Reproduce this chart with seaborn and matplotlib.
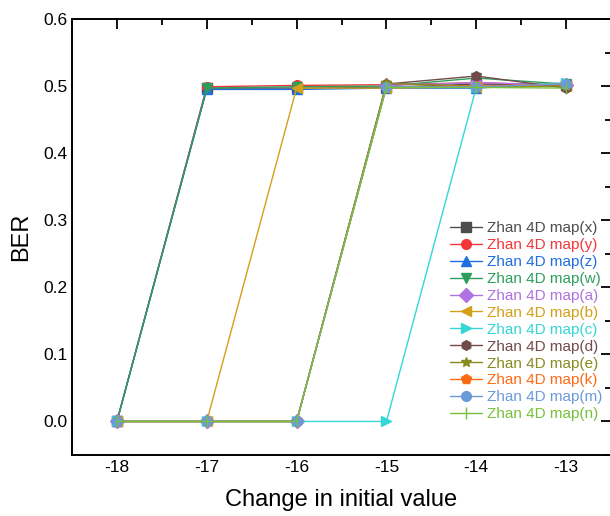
import pandas as pd
import matplotlib
matplotlib.use("Agg")
import matplotlib.pyplot as plt
import seaborn as sns
from matplotlib.ticker import MultipleLocator

# x axis: change in initial value
change = [-18, -17, -16, -15, -14, -13]

# BER per series
ber_x = [0.0, 0.497, 0.497, 0.498, 0.503, 0.502]
ber_y = [0.0, 0.499, 0.501, 0.502, 0.505, 0.501]
ber_z = [0.0, 0.495, 0.495, 0.497, 0.497, 0.504]
ber_w = [0.0, 0.497, 0.499, 0.500, 0.512, 0.503]
ber_a = [0.0, 0.0, 0.0, 0.501, 0.505, 0.502]
ber_b = [0.0, 0.0, 0.497, 0.497, 0.499, 0.500]
ber_c = [0.0, 0.0, 0.0, 0.0, 0.498, 0.505]
ber_d = [0.0, 0.0, 0.0, 0.503, 0.515, 0.497]
ber_e = [0.0, 0.0, 0.0, 0.504, 0.500, 0.500]
ber_k = [0.0, 0.0, 0.0, 0.499, 0.500, 0.503]
ber_m = [0.0, 0.0, 0.0, 0.499, 0.499, 0.503]
ber_n = [0.0, 0.0, 0.0, 0.498, 0.498, 0.497]

labels = ['Zhan 4D map(x)', 'Zhan 4D map(y)', 'Zhan 4D map(z)', 'Zhan 4D map(w)',
          'Zhan 4D map(a)', 'Zhan 4D map(b)', 'Zhan 4D map(c)', 'Zhan 4D map(d)',
          'Zhan 4D map(e)', 'Zhan 4D map(k)', 'Zhan 4D map(m)', 'Zhan 4D map(n)']
series = [ber_x, ber_y, ber_z, ber_w, ber_a, ber_b, ber_c, ber_d, ber_e, ber_k, ber_m, ber_n]

colors = ['#4d4d4d', '#f2373a', '#1f6fe0', '#2e9e5c', '#b072e0', '#d4a017',
          '#35d6d6', '#734a4a', '#8a8a1e', '#ff6a14', '#6b9ad8', '#77c13a']
markers = ['s', 'o', '^', 'v', 'D', '<', '>', 'h', '*', 'p', 'o', '|']

sns.set_style("white")
plt.rcParams['font.family'] = ['Liberation Sans', 'DejaVu Sans']
plt.rcParams['axes.unicode_minus'] = False

fig = plt.figure(figsize=(6.10, 5.16), dpi=100)
ax = fig.add_axes([72 / 610, (516 - 455) / 516, (611 - 72) / 610, (455 - 19) / 516])

for lab, vals, col, mk in zip(labels, series, colors, markers):
    df = pd.DataFrame({'change': change, 'BER': vals})
    sns.lineplot(data=df, x='change', y='BER', ax=ax, color=col, marker=mk,
                 markersize=7 if mk != '|' else 9, markeredgecolor=col,
                 markeredgewidth=1.0, linewidth=1.0, label=lab)

ax.set_xlim(-18.5, -12.5)
ax.set_ylim(-0.05, 0.6)
ax.xaxis.set_major_locator(MultipleLocator(1))
ax.xaxis.set_minor_locator(MultipleLocator(0.5))
ax.yaxis.set_minor_locator(MultipleLocator(0.05))
ax.set_yticks([0.0, 0.1, 0.2, 0.3, 0.4, 0.5, 0.6])
ax.set_yticklabels(['0.0', '0.1', '0.2', '0.3', '0.4', '0.5', '0.6'])
ax.tick_params(which='both', direction='in', top=True, right=True, width=1.3,
               labelsize=12.5, colors='black')
ax.tick_params(which='major', length=7)
ax.tick_params(which='minor', length=4)
for sp in ax.spines.values():
    sp.set_linewidth(1.4)
    sp.set_color('black')

ax.set_xlabel('Change in initial value', fontsize=17, labelpad=10, color='black')
ax.set_ylabel('BER', fontsize=17, labelpad=8, color='black')

leg = ax.legend(loc='upper left', bbox_to_anchor=(0.69, 0.55), frameon=False,
                fontsize=11, labelcolor='linecolor', handlelength=2.1,
                handletextpad=0.3, labelspacing=0.19, borderaxespad=0)

fig.savefig('out.png', dpi=100)
